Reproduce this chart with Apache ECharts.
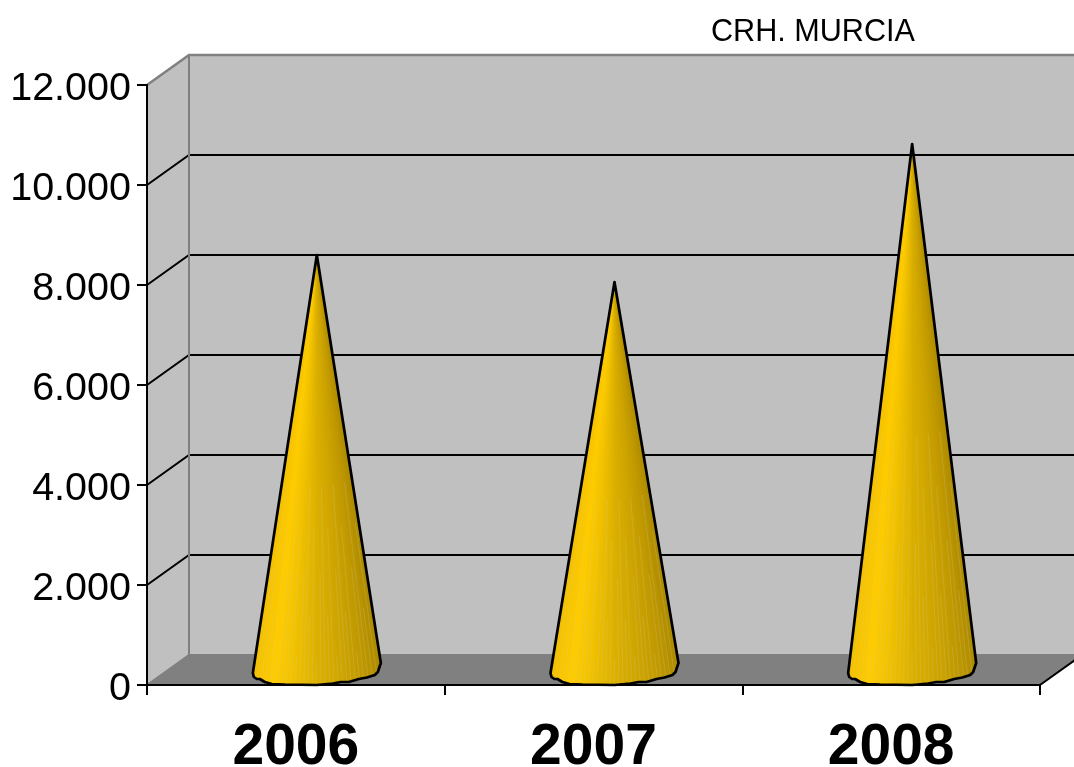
<!DOCTYPE html>
<html>
<head>
<meta charset="utf-8">
<style>html,body{margin:0;padding:0;background:#fff}#c{width:1074px;height:767px}</style>
<script src="https://cdn.jsdelivr.net/npm/echarts@6/dist/echarts.min.js"></script>
</head>
<body>
<div id="c"></div>
<script>
var titleText = 'CRH. MURCIA';
var categories = ['2006', '2007', '2008'];
var values = [8300, 7760, 10520];
var wallTicks = [0, 2000, 4000, 6000, 8000, 10000, 12000];

var DEPTH_X = 42, DEPTH_Y = -30;
// lumpy base of the cone, pixel offsets from the base centre
var BASE = [[-64,3],[-63,7],[-60,9],[-57,9],[-52,12],[-45,14],[-32,14.5],[0,15],[16,13.5],[24,12],[32,12],[42,9],[50,7.5],[58,5],[61,2],[64,-7]];
var SHADES = ['#f2c000','#ffcc00','#efc000','#dcb000','#d0a600','#c39b00','#ae8b00'];
var FACETS = 30;

var chart = echarts.init(document.getElementById('c'), null, {renderer: 'canvas'});

function wallsItem(params, api) {
  if (params.dataIndex !== 0) return null;
  var cs = params.coordSys;
  var left = cs.x, right = cs.x + cs.width;
  var y0 = api.coord([0, 0])[1], yTop = api.coord([0, 12000])[1];
  var bx = left + DEPTH_X, brx = right + DEPTH_X;
  var gray = '#808080';
  var kids = [
    {type: 'polygon', shape: {points: [[left,yTop],[bx,yTop+DEPTH_Y],[bx,y0+DEPTH_Y],[left,y0]]}, style: {fill: '#c0c0c0', stroke: 'none'}},
    {type: 'polygon', shape: {points: [[bx,yTop+DEPTH_Y],[brx,yTop+DEPTH_Y],[brx,y0+DEPTH_Y],[bx,y0+DEPTH_Y]]}, style: {fill: '#c0c0c0', stroke: 'none'}},
    {type: 'polygon', shape: {points: [[left,y0],[bx,y0+DEPTH_Y],[brx,y0+DEPTH_Y],[right,y0]]}, style: {fill: '#808080', stroke: 'none'}}
  ];
  wallTicks.forEach(function (t) {
    var y = api.coord([0, t])[1];
    var col = (t === 0 || t === 12000) ? gray : '#000';
    kids.push({type: 'polyline', shape: {points: [[left,y],[bx,y+DEPTH_Y],[brx,y+DEPTH_Y]]}, style: {fill: 'none', stroke: col, lineWidth: (t === 12000) ? 2.6 : 2}});
  });
  kids.push({type: 'line', shape: {x1: bx, y1: yTop+DEPTH_Y, x2: bx, y2: y0+DEPTH_Y}, style: {stroke: gray, lineWidth: 2}});
  kids.push({type: 'line', shape: {x1: right, y1: y0, x2: brx, y2: y0+DEPTH_Y}, style: {stroke: '#000', lineWidth: 2}});
  return {type: 'group', children: kids};
}

function baseYAt(x) {
  for (var i = 1; i < BASE.length; i++) {
    if (x <= BASE[i][0]) {
      var a = BASE[i - 1], b = BASE[i];
      return a[1] + (b[1] - a[1]) * (x - a[0]) / (b[0] - a[0]);
    }
  }
  return BASE[BASE.length - 1][1];
}

function shade(i) { return echarts.color.lerp((i + 0.5) / FACETS, SHADES); }

function coneItem(params, api) {
  var top = api.coord([api.value(0), api.value(1)]);
  var base = api.coord([api.value(0), 0]);
  var dx = DEPTH_X / 2, dy = DEPTH_Y / 2;
  var cx = base[0] + dx, cy = base[1] + dy;
  var apex = [top[0] + dx, top[1] + dy];
  var pts = [apex];
  BASE.slice().reverse().forEach(function (o) { pts.push([cx + o[0], cy + o[1]]); });
  // solid underlay so facet edges do not let the wall show through near the apex
  var kids = [{type: 'polygon', shape: {points: pts}, style: {fill: '#d4a900', stroke: 'none'}}];
  var f, x1, x2;
  for (f = 0; f < FACETS; f++) {
    x1 = -64 + 128 * f / FACETS; x2 = -64 + 128 * (f + 1) / FACETS;
    kids.push({type: 'polygon',
      shape: {points: [apex, [cx + x1, cy + baseYAt(x1)], [cx + x2, cy + baseYAt(x2)]]},
      style: {fill: shade(f), stroke: shade(f), lineWidth: 0.8}});
  }
  // faint light seams, strongest in the lower part of the cone
  for (f = 1; f < FACETS; f++) {
    x1 = -64 + 128 * f / FACETS;
    var bx = cx + x1, by = cy + baseYAt(x1) - 1;
    var reach = 0.06 + 0.5 * ((f * 7) % 5) / 5;
    kids.push({type: 'line', shape: {x1: bx, y1: by, x2: bx + (apex[0] - bx) * reach, y2: by + (apex[1] - by) * reach},
      style: {stroke: 'rgba(215,205,150,0.3)', lineWidth: 0.8}});
  }
  kids.push({type: 'polygon', shape: {points: pts}, style: {fill: 'none', stroke: '#000', lineWidth: 2.7, lineJoin: 'round'}});
  return {type: 'group', children: kids};
}

chart.setOption({
  animation: false,
  backgroundColor: '#fff',
  title: {text: titleText, left: 711, top: 17, padding: 0,
    textStyle: {fontFamily: 'Liberation Sans', fontSize: 30.6, fontWeight: 'normal', color: '#000'}},
  grid: {left: 147, right: 34, top: 85, bottom: 82, outerBoundsMode: 'none'},
  xAxis: {
    type: 'category', data: categories, z: 3,
    axisLine: {show: true, onZero: false, lineStyle: {color: '#000', width: 2}},
    axisTick: {show: true, alignWithLabel: false, length: 10, lineStyle: {color: '#000', width: 2}},
    axisLabel: {fontFamily: 'Liberation Sans', fontSize: 57, fontWeight: 'bold', color: '#000', margin: 35},
    splitLine: {show: false}
  },
  yAxis: {
    type: 'value', min: 0, max: 12000, interval: 2000, z: 3,
    axisLine: {show: true, lineStyle: {color: '#000', width: 2}},
    axisTick: {show: true, length: 10, lineStyle: {color: '#000', width: 2}},
    axisLabel: {fontFamily: 'Liberation Sans', fontSize: 39.5, color: '#000', margin: 16,
      verticalAlign: 'top', lineHeight: 9,
      formatter: function (v) { return v >= 1000 ? Math.floor(v / 1000) + '.000' : String(v); }},
    splitLine: {show: false}
  },
  series: [
    {type: 'custom', z: 1, silent: true, clip: false, renderItem: wallsItem, data: [[0, 0]], encode: {x: 0, y: 1}},
    {type: 'custom', z: 4, silent: true, clip: false, renderItem: coneItem,
      data: categories.map(function (c, i) { return [i, values[i]]; }), encode: {x: 0, y: 1}}
  ]
});
</script>
</body>
</html>
